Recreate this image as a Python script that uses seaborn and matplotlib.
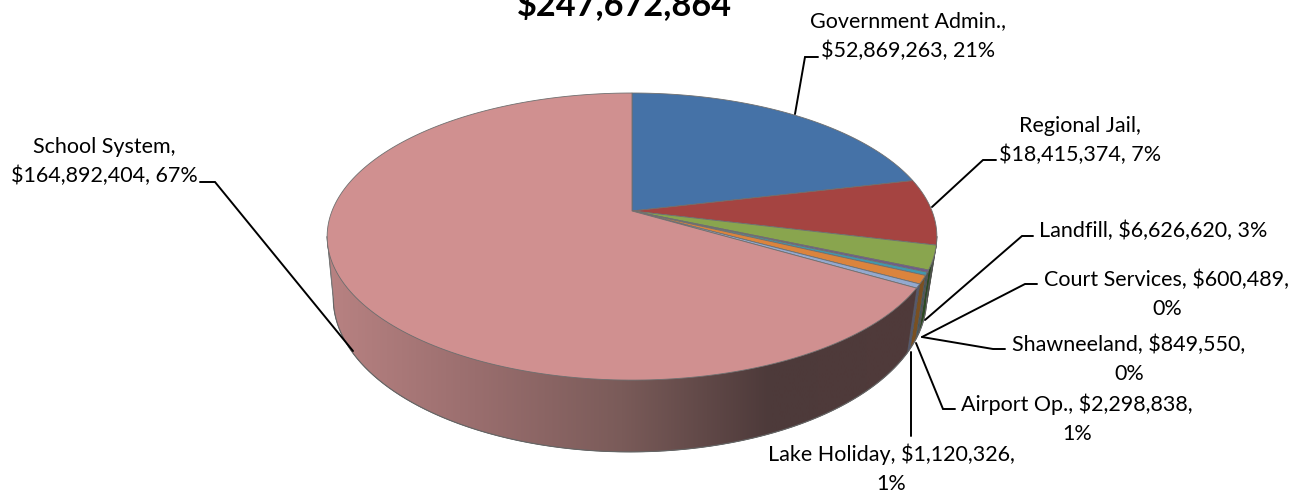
import numpy as np
import matplotlib
matplotlib.use("Agg")
import matplotlib.pyplot as plt
from matplotlib.patches import Polygon
import seaborn as sns

# -----------------------------
# Data
# -----------------------------
names = ["Government Admin.", "Regional Jail", "Landfill", "Court Services",
         "Shawneeland", "Airport Op.", "Lake Holiday", "School System"]
values = [52869263, 18415374, 6626620, 600489, 849550, 2298838, 1120326, 164892404]
total = 247672864

top_colors = ["#4572a7", "#a54441", "#89a54e", "#71588f", "#4198af", "#db843d", "#93a9cf", "#d09090"]
side_colors = ["#2c4a6e", "#6e2c2a", "#2c4a22", "#3d2f50", "#2a5c6a", "#7a5022", "#55586e", "#503a3a"]

# label text, x, y
labels = [
    ("Government Admin.,\n$52,869,263, 21%", 908, 36),
    ("Regional Jail,\n$18,415,374, 7%", 1080, 140.5),
    ("Landfill, $6,626,620, 3%", 1153, 231),
    ("Court Services, $600,489,\n0%", 1167, 294),
    ("Shawneeland, $849,550,\n0%", 1129, 359),
    ("Airport Op., $2,298,838,\n1%", 1077, 418.5),
    ("Lake Holiday, $1,120,326,\n1%", 891, 469),
    ("School System,\n$164,892,404, 67%", 104, 161.5),
]
leaders = [
    [(795, 114), (805, 57), (818, 57)],
    [(932, 207), (983, 160), (996, 160)],
    [(925, 320), (1022, 236), (1033, 236)],
    [(922, 337), (1025, 284), (1037, 284)],
    [(922, 337), (993, 349), (1005, 349)],
    [(916, 343), (943, 409), (955, 409)],
    [(911, 352), (911, 436)],
    [(353, 351), (215, 182), (200, 182)],
]

# -----------------------------
# Pie geometry (pixels)
# -----------------------------
K = 0.178
TOP = (632, 211, 300, 139)
BOTTOM = (630, 270.6, 292, 149)


def project(theta, plane):
    cx, cy, rx, ry = plane
    u, v = np.sin(theta), np.cos(theta)
    w = 1 + K * v
    return cx + rx * u / w, cy - ry * v / w


sns.set_theme(style="white")
plt.rcParams["font.family"] = ["Lato", "DejaVu Sans"]

fig = plt.figure(figsize=(13.04, 4.93), dpi=100)
ax = fig.add_axes([0, 0, 1, 1])

edges = np.cumsum([0] + values) / total * 2 * np.pi

# side wall: only the front part of the rim shows
front = np.linspace(0, 2 * np.pi, 1441)
fx, fy = project(front, TOP)
t_right = front[fx.argmax()]
t_left = front[fx.argmin()]
ramp = sns.blend_palette(["#b88282", "#9a6e6e", "#7a5b59", "#4d3a3a", "#503a3a"], 256)
grad = np.array(ramp)[None, :, :]

for i in range(len(values)):
    t = np.linspace(max(edges[i], t_right), min(edges[i + 1], t_left), 200)
    if edges[i + 1] <= t_right or edges[i] >= t_left:
        continue
    x, y = project(t, TOP)
    bx, by = project(t, BOTTOM)
    pts = np.vstack([np.c_[x, y], np.c_[bx[::-1], by[::-1]]])
    poly = Polygon(pts, closed=True, facecolor=side_colors[i], edgecolor="#555555",
                   lw=0.5, zorder=1)
    ax.add_patch(poly)
    if i == len(values) - 1:
        im = ax.imshow(grad, extent=(327, 917, 493, 0), aspect="auto", zorder=1.5,
                       interpolation="bilinear")
        im.set_clip_path(poly)

# outer edge of the wall
t = np.linspace(t_right, t_left, 600)
bx, by = project(t, BOTTOM)
tx, ty = project(t, TOP)
ax.plot(bx, by, color="#666666", lw=0.8, zorder=2)
ax.plot([tx[-1], bx[-1]], [ty[-1], by[-1]], color="#777777", lw=0.8, zorder=2)
ax.plot([tx[0], bx[0]], [ty[0], by[0]], color="#555555", lw=0.8, zorder=2)

# top face
for i in range(len(values)):
    t = np.linspace(edges[i], edges[i + 1], 200)
    x, y = project(t, TOP)
    pts = np.vstack([[TOP[0], TOP[1]], np.c_[x, y]])
    ax.add_patch(Polygon(pts, closed=True, facecolor=top_colors[i],
                         edgecolor="#6f6f6f", lw=0.6, zorder=3))

ax.set_xlim(0, 1304)
ax.set_ylim(493, 0)
ax.axis("off")

# -----------------------------
# Labels
# -----------------------------
for pts in leaders:
    xs, ys = zip(*pts)
    ax.plot(xs, ys, color="black", lw=1.4, zorder=4, solid_joinstyle="miter")

for text, x, y in labels:
    ax.text(x, y, text, ha="center", va="center", fontsize=15.5, color="black",
            linespacing=1.55, zorder=5)

ax.text(624, 15, "$247,672,864", ha="center", va="baseline", fontsize=24.7,
        fontweight="bold", color="black")

fig.savefig("out.png", dpi=100)
